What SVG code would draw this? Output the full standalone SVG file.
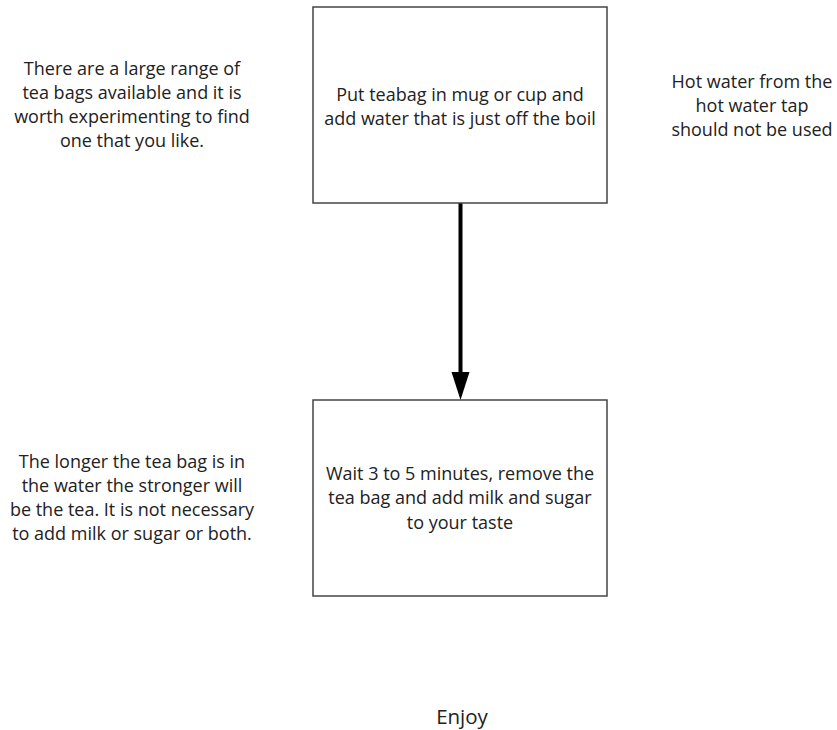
<svg xmlns="http://www.w3.org/2000/svg" width="837" height="730" viewBox="0 0 837 730">
<style>
text{font-family:"Open Sans","Noto Sans","Liberation Sans",sans-serif;font-size:18px;fill:#222;text-anchor:middle}
.box{fill:#fff;stroke:#444;stroke-width:1.5}
</style>
<rect width="837" height="730" fill="#fff"/>
<g id="connectors">
<line x1="460.5" y1="203" x2="460.5" y2="373" stroke="#000" stroke-width="4"/>
<polygon points="451.5,372 469.5,372 460.5,400" fill="#000"/>
</g>
<g id="step1">
<rect class="box" x="313" y="7" width="294" height="196"/>
<text x="460" y="101">Put teabag in mug or cup and</text>
<text x="460" y="125">add water that is just off the boil</text>
</g>
<g id="step2">
<rect class="box" x="313" y="400" width="294" height="196"/>
<text x="460" y="480">Wait 3 to 5 minutes, remove the</text>
<text x="460" y="504">tea bag and add milk and sugar</text>
<text x="460" y="529">to your taste</text>
</g>
<g id="note1">
<text x="132" y="75">There are a large range of</text>
<text x="132" y="99">tea bags available and it is</text>
<text x="132" y="123">worth experimenting to find</text>
<text x="132" y="147">one that you like.</text>
</g>
<g id="note2">
<text x="752" y="88">Hot water from the</text>
<text x="752" y="112">hot water tap</text>
<text x="752" y="136">should not be used</text>
</g>
<g id="note3">
<text x="132" y="468">The longer the tea bag is in</text>
<text x="132" y="492">the water the stronger will</text>
<text x="132" y="516">be the tea. It is not necessary</text>
<text x="132" y="540">to add milk or sugar or both.</text>
</g>
<g id="end">
<text x="462" y="724" style="font-size:20.5px">Enjoy</text>
</g>
</svg>
